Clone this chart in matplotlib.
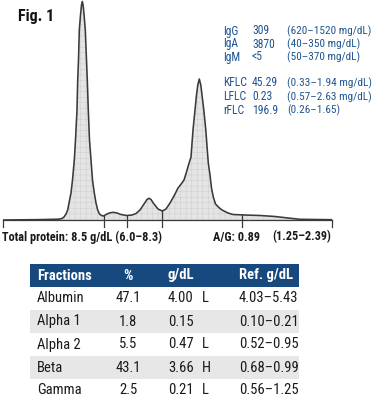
import numpy as np
import matplotlib
matplotlib.use("Agg")
import matplotlib.pyplot as plt
from matplotlib import font_manager as fm
from matplotlib.patches import Rectangle

def pick(names):
    for n in names:
        try:
            fm.findfont(fm.FontProperties(family=n), fallback_to_default=False)
            return n
        except Exception:
            pass
    return "DejaVu Sans"

NARROW = pick(["Liberation Sans Narrow", "Roboto Condensed", "Liberation Sans"])

# ---------------- data ----------------
# densitometry trace (migration position, relative absorbance)
trace_x = [0, 37, 55, 59, 61, 63, 64.7, 66, 68, 69.5, 71.3, 72.5, 74, 74.7, 75.5, 76.3, 77.5, 78.5, 79.3,
           80.1, 81.1, 82.3, 83.5, 84.3, 85.3, 86.5, 88, 89.5, 91.3, 93, 94.7, 96.5, 98.5, 100.5, 104, 107,
           110.3, 114, 118, 123.7, 129, 133, 137, 141, 144, 146, 148, 151, 155, 159.3, 163, 167, 171, 175,
           178.7, 181, 183.5, 185.5, 188, 190, 192, 193.5, 194.8, 196.3, 197.8, 199, 200.8, 202.8, 204.3,
           205.3, 207, 208.5, 210.3, 212.5, 215.3, 219, 225, 230, 242, 257, 272, 285, 297, 329]
trace_y = [0, 0.4, 0.8, 1.5, 3, 6, 10, 17, 27, 40, 60, 80, 110, 140, 160, 190, 205, 215, 218.5,
           215, 205, 190, 160, 140, 110, 80, 60, 40, 27, 17, 10, 6, 4.5, 4, 6, 7.2,
           7.7, 7, 5.5, 4.5, 5, 6.5, 10, 16, 20.5, 21.7, 20.5, 16, 11, 9, 11, 17, 24, 32,
           36.7, 40, 48, 55, 63, 90, 110, 125, 135, 141, 135, 125, 110, 90, 70,
           57, 45, 32, 23, 16, 13, 10, 7, 5.5, 5, 4.5, 3.5, 2, 0.7, 0.3]
dividers = [0, 100.5, 123.7, 159.3, 239, 329]

immuno_names = ["IgG", "IgA", "IgM", "KFLC", "LFLC", "rFLC"]
immuno_values = ["309", "3870", "<5", "45.29", "0.23", "196.9"]
immuno_ranges = ["(620–1520 mg/dL)", "(40–350 mg/dL)", "(50–370 mg/dL)",
                 "(0.33–1.94 mg/dL)", "(0.57–2.63 mg/dL)", "(0.26–1.65)"]

total_protein = "Total protein: 8.5 g/dL (6.0–8.3)"
ag_ratio = "A/G: 0.89"
ag_range = "(1.25–2.39)"

table_header = ["Fractions", "%", "g/dL", "Ref. g/dL"]
fractions = ["Albumin", "Alpha 1", "Alpha 2", "Beta", "Gamma"]
percents = ["47.1", "1.8", "5.5", "43.1", "2.5"]
gdl = ["4.00", "0.15", "0.47", "3.66", "0.21"]
flags = ["L", "", "L", "H", "L"]
refs = ["4.03–5.43", "0.10–0.21", "0.52–0.95", "0.68–0.99", "0.56–1.25"]

# ---------------- figure ----------------
W, H = 372, 397
fig = plt.figure(figsize=(W / 100, H / 100), dpi=100)
fig.patch.set_facecolor("white")
plt.rcParams["hatch.linewidth"] = 0.3

# electropherogram axes: x 3..332 px, baseline at y=220 px, top at y=0
ax = fig.add_axes([3 / W, (H - 220) / H, 329 / W, 220 / H])
ax.set_xlim(0, 329)
ax.set_ylim(0, 220)
ax.axis("off")
tx = np.array(trace_x)
ty = np.array(trace_y)
ax.fill_between(tx, 0, ty, facecolor="#e4e4e4", edgecolor="#cacaca", hatch="+++", linewidth=0)
ax.plot(tx, ty, color="#3a3a3a", lw=1.15, solid_joinstyle="round")
ax.plot([0, 329], [0, 0], color="#3a3a3a", lw=0.9, clip_on=False)
for d in dividers:
    top = float(np.interp(d, tx, ty))
    ax.plot([d, d], [top, -6.5], color="#3a3a3a", lw=0.9, clip_on=False)

# overlay axes in pixel coords
ov = fig.add_axes([0, 0, 1, 1])
ov.set_xlim(0, W)
ov.set_ylim(H, 0)
ov.axis("off")
ov.patch.set_alpha(0)

ov.text(18, 17, "Fig. 1", family=NARROW, fontsize=11.5, fontweight="bold", color="#111111",
        ha="left", va="center")

blue = "#1f5590"
rows_y = [31, 44, 57, 83, 97, 110]
for n, v, r, y in zip(immuno_names, immuno_values, immuno_ranges, rows_y):
    ov.text(223, y, n, family=NARROW, fontsize=8.4, color=blue, ha="left", va="center")
    ov.text(252, y, v, family=NARROW, fontsize=8.4, color=blue, ha="left", va="center")
    ov.text(287, y, r, family=NARROW, fontsize=8.1, color=blue, ha="left", va="center")

ov.text(2, 237, total_protein, family=NARROW, fontsize=8.8, fontweight="bold", color="#1a1a1a",
        ha="left", va="center")
ov.text(213, 237, ag_ratio, family=NARROW, fontsize=8.8, fontweight="bold", color="#1a1a1a",
        ha="left", va="center")
ov.text(272, 237, ag_range, family=NARROW, fontsize=8.8, fontweight="bold", color="#1a1a1a",
        ha="left", va="center")

# table
tl, tr = 30, 299
hdr_top, hdr_bot = 264, 287
row_h = 23
ov.add_patch(Rectangle((tl, hdr_top), tr - tl, hdr_bot - hdr_top, facecolor="#17497f", edgecolor="none"))
hy = (hdr_top + hdr_bot) / 2
col_x = [37, 128, 168, 239]
col_ha = ["left", "center", "left", "left"]
for t, x, ha in zip(table_header, col_x, col_ha):
    ov.text(x, hy, t, family=NARROW, fontsize=10.5, fontweight="bold", color="white", ha=ha, va="center")
for i in range(len(fractions)):
    top = hdr_bot + i * row_h
    if i % 2 == 1:
        ov.add_patch(Rectangle((tl, top), tr - tl, row_h, facecolor="#e7e7e7", edgecolor="none"))
    cy = top + row_h / 2
    ov.text(37, cy, fractions[i], family=NARROW, fontsize=10.5, color="#1a1a1a", ha="left", va="center")
    ov.text(128, cy, percents[i], family=NARROW, fontsize=10.5, color="#1a1a1a", ha="center", va="center")
    ov.text(168, cy, gdl[i], family=NARROW, fontsize=10.5, color="#1a1a1a", ha="left", va="center")
    ov.text(202, cy, flags[i], family=NARROW, fontsize=10.5, color="#1a1a1a", ha="left", va="center")
    ov.text(239, cy, refs[i], family=NARROW, fontsize=10.5, color="#1a1a1a", ha="left", va="center")

fig.savefig("out.png", dpi=100, facecolor="white")
